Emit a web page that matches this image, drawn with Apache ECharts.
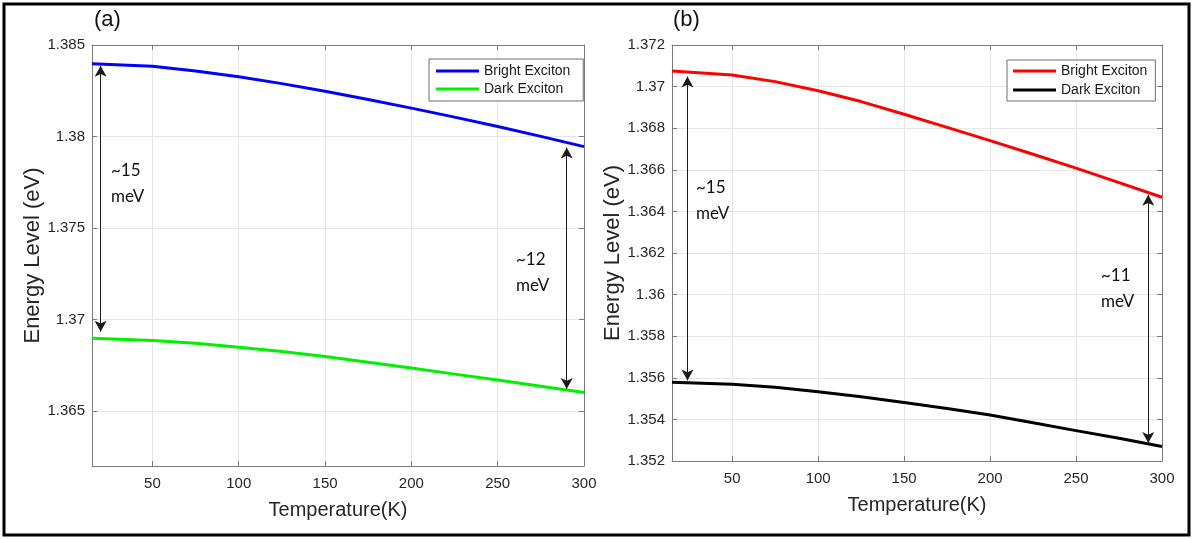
<!DOCTYPE html>
<html>
<head>
<meta charset="utf-8">
<title>Exciton energy levels vs temperature</title>
<script src="https://cdn.jsdelivr.net/npm/echarts@6/dist/echarts.min.js"></script>
<style>
  html, body { margin: 0; padding: 0; background: #fff; }
  #chart { width: 1193px; height: 539px; }
</style>
</head>
<body>
<div id="chart"></div>
<script>
// Temperature samples (K)
const temperature = [15, 50, 75, 100, 125, 150, 175, 200, 225, 250, 275, 300];

// Panel (a) energies (eV)
const brightA = [1.38398, 1.38384, 1.38358, 1.38326, 1.38289, 1.38247, 1.38202, 1.38155, 1.38106, 1.38055, 1.38001, 1.37945];
const darkA   = [1.36898, 1.36885, 1.36871, 1.36849, 1.36825, 1.36798, 1.36767, 1.36736, 1.36702, 1.36670, 1.36636, 1.36601];

// Panel (b) energies (eV)
const brightB = [1.37075, 1.37056, 1.37024, 1.36980, 1.36928, 1.36867, 1.36804, 1.36740, 1.36675, 1.36608, 1.36538, 1.36468];
const darkB   = [1.35579, 1.35569, 1.35555, 1.35533, 1.35509, 1.35481, 1.35452, 1.35421, 1.35384, 1.35346, 1.35309, 1.35270];

// Tick values
const xTicks  = [50, 100, 150, 200, 250, 300];
const yTicksA = [1.365, 1.37, 1.375, 1.38, 1.385];
const yTicksB = [1.352, 1.354, 1.356, 1.358, 1.36, 1.362, 1.364, 1.366, 1.368, 1.37, 1.372];

// Splitting arrows: [temperature, upper tip, lower tip]
const gapArrowsA = [[20, 1.38386, 1.36933], [290, 1.37940, 1.36621]];
const gapArrowsB = [[24, 1.37048, 1.35587], [292, 1.36480, 1.35286]];

const seriesNames = ['Bright Exciton', 'Dark Exciton'];

const FONT = "'Liberation Sans', Arial, sans-serif";
const TEXT_COLOR = '#262626';
const AXIS_COLOR = '#7a7a7a';
const GRID_COLOR = '#e6e6e6';

function pairs(xs, ys) { return xs.map((x, i) => [x, ys[i]]); }

function mainX(gridIndex) {
  return {
    type: 'value', gridIndex, min: 15, max: 300, position: 'bottom',
    name: 'Temperature(K)', nameLocation: 'middle', nameGap: 34,
    nameTextStyle: { fontFamily: FONT, fontSize: 20, color: TEXT_COLOR },
    axisLine: { show: true, onZero: false, lineStyle: { color: AXIS_COLOR, width: 1 } },
    axisTick: { show: true, inside: true, length: 5, customValues: xTicks, lineStyle: { color: AXIS_COLOR } },
    axisLabel: { customValues: xTicks, margin: 10, fontFamily: FONT, fontSize: 15, color: TEXT_COLOR },
    splitLine: { show: true, lineStyle: { color: GRID_COLOR, width: 1 } }
  };
}
function topX(gridIndex) {
  return {
    type: 'value', gridIndex, min: 15, max: 300, position: 'top',
    axisLine: { show: true, onZero: false, lineStyle: { color: AXIS_COLOR, width: 1 } },
    axisTick: { show: true, inside: true, length: 5, customValues: xTicks, lineStyle: { color: AXIS_COLOR } },
    axisLabel: { show: false }, splitLine: { show: false }
  };
}
function mainY(gridIndex, min, max, ticks, gap) {
  return {
    type: 'value', gridIndex, min, max, position: 'left',
    name: 'Energy Level (eV)', nameLocation: 'middle', nameGap: gap,
    nameTextStyle: { fontFamily: FONT, fontSize: 22, color: TEXT_COLOR },
    axisLine: { show: true, onZero: false, lineStyle: { color: AXIS_COLOR, width: 1 } },
    axisTick: { show: true, inside: true, length: 5, customValues: ticks, lineStyle: { color: AXIS_COLOR } },
    axisLabel: { customValues: ticks, margin: 7, fontFamily: FONT, fontSize: 15, color: TEXT_COLOR },
    splitLine: { show: true, lineStyle: { color: GRID_COLOR, width: 1 } }
  };
}
function rightY(gridIndex, min, max, ticks) {
  return {
    type: 'value', gridIndex, min, max, position: 'right',
    axisLine: { show: true, onZero: false, lineStyle: { color: AXIS_COLOR, width: 1 } },
    axisTick: { show: true, inside: true, length: 5, customValues: ticks, lineStyle: { color: AXIS_COLOR } },
    axisLabel: { show: false }, splitLine: { show: false }
  };
}

function gapMarks(arrows) {
  return {
    silent: true,
    symbol: ['arrow', 'arrow'],
    symbolSize: [9, 11],
    label: { show: false },
    lineStyle: { color: '#1a1a1a', width: 1, type: 'solid' },
    emphasis: { disabled: true },
    data: arrows.map(a => [{ coord: [a[0], a[1]] }, { coord: [a[0], a[2]] }])
  };
}

function curve(name, xi, yi, values, color, marks) {
  const s = {
    type: 'line', name, xAxisIndex: xi, yAxisIndex: yi,
    data: pairs(temperature, values),
    smooth: false,
    showSymbol: false, symbol: 'none',
    lineStyle: { color, width: 3, join: 'round' }, itemStyle: { color },
    z: 3, animation: false
  };
  if (marks) s.markLine = marks;
  return s;
}

function legendBox(left, top, padding, gap) {
  return {
    left, top, orient: 'vertical',
    backgroundColor: '#fff', borderColor: '#6e6e6e', borderWidth: 1,
    padding, itemGap: gap, itemWidth: 43, itemHeight: 3, icon: 'rect',
    textStyle: { fontFamily: FONT, fontSize: 14, color: '#1a1a1a' },
    selectedMode: false
  };
}

const chart = echarts.init(document.getElementById('chart'), null, { renderer: 'canvas' });

const NOTE_FONT = "Lato, 'Open Sans', sans-serif";
function note(x, y, lines) {
  return {
    type: 'text', left: x, top: y, z: 10,
    style: { text: lines.join('\n'), fontFamily: NOTE_FONT, fontSize: 17, lineHeight: 26, fill: '#111' }
  };
}

chart.setOption({
  animation: false,
  backgroundColor: '#fff',
  grid: [
    { left: 92, top: 45, width: 492, height: 421, containLabel: false },
    { left: 672, top: 45, width: 490, height: 416, containLabel: false }
  ],
  xAxis: [mainX(0), topX(0), mainX(1), topX(1)],
  yAxis: [
    mainY(0, 1.362, 1.385, yTicksA, 47), rightY(0, 1.362, 1.385, yTicksA),
    mainY(1, 1.352, 1.372, yTicksB, 45), rightY(1, 1.352, 1.372, yTicksB)
  ],
  legend: [
    Object.assign(legendBox(429, 59, [5, 9, 5, 7], 4), {
      data: seriesNames.map(n => ({ name: n + ' ' })),
    }),
    Object.assign(legendBox(1007, 60, [4, 8, 4, 6], 5), {
      data: seriesNames,
    })
  ],
  series: [
    curve(seriesNames[0] + ' ', 0, 0, brightA, '#0000ff', null),
    curve(seriesNames[1] + ' ', 0, 0, darkA, '#00f000', gapMarks(gapArrowsA)),
    curve(seriesNames[0], 2, 2, brightB, '#ff0000', null),
    curve(seriesNames[1], 2, 2, darkB, '#000000', gapMarks(gapArrowsB))
  ],
  graphic: [
    { type: 'rect', shape: { x: 4, y: 4, width: 1185, height: 531 }, style: { fill: null, stroke: '#000', lineWidth: 3 }, z: 20, silent: true },
    { type: 'text', left: 94, top: 9, style: { text: '(a)', fontFamily: FONT, fontSize: 22, fill: '#111' } },
    { type: 'text', left: 673, top: 9, style: { text: '(b)', fontFamily: FONT, fontSize: 22, fill: '#111' } },
    note(111, 158, ['~15', 'meV']),
    note(516, 247, ['~12', 'meV']),
    note(696, 175, ['~15', 'meV']),
    note(1101, 263, ['~11', 'meV'])
  ]
});
</script>
</body>
</html>
